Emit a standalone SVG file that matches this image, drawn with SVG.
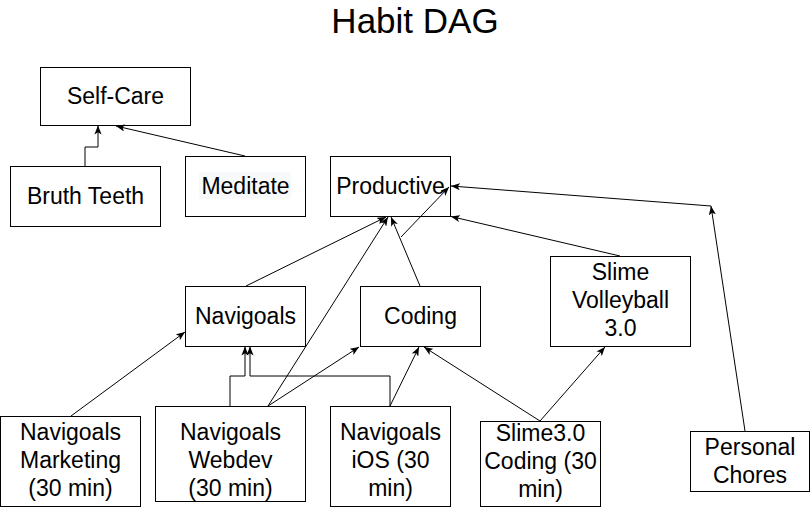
<svg xmlns="http://www.w3.org/2000/svg" width="811" height="507" viewBox="0 0 811 507">
<defs>
<style>
.box{fill:#fff;stroke:#000;stroke-width:1}
.t{font-family:"Liberation Sans",Arial,Helvetica,sans-serif;font-size:23px;fill:#000;text-anchor:middle}
.title{font-family:"Liberation Sans",Arial,Helvetica,sans-serif;font-size:35px;fill:#000;text-anchor:middle}
.e{fill:none;stroke:#000;stroke-width:1;marker-end:url(#arr)}
</style>
<marker id="arr" markerUnits="userSpaceOnUse" viewBox="0 0 10 8" refX="10" refY="4" markerWidth="9" markerHeight="7.2" orient="auto">
<path d="M0,0 L10,4 L0,8 L2.5,4 Z" fill="#000"/>
</marker>
</defs>
<rect width="811" height="507" fill="#fff"/>
<text class="title" x="415" y="33">Habit DAG</text>

<g id="self-care">
<rect class="box" x="40.5" y="67.5" width="150" height="58"/>
<text class="t" x="115.5" y="104">Self-Care</text>
</g>
<g id="bruth-teeth">
<rect class="box" x="10.5" y="166.5" width="150" height="60"/>
<text class="t" x="85.5" y="204">Bruth Teeth</text>
</g>
<g id="meditate">
<rect class="box" x="185.5" y="156.5" width="120" height="60"/>
<rect x="199" y="172" width="92" height="27" fill="#f8f9fa"/>
<text class="t" x="245.5" y="194">Meditate</text>
</g>
<g id="productive">
<rect class="box" x="330.5" y="156.5" width="120" height="60"/>
<text class="t" x="390.5" y="194">Productive</text>
</g>
<g id="navigoals">
<rect class="box" x="185.5" y="286.5" width="120" height="60"/>
<text class="t" x="245.5" y="324">Navigoals</text>
</g>
<g id="coding">
<rect class="box" x="360.5" y="286.5" width="120" height="60"/>
<text class="t" x="420.5" y="324">Coding</text>
</g>
<g id="slime-volleyball">
<rect class="box" x="550.5" y="256.5" width="140" height="90"/>
<text class="t" x="620.5" y="280">Slime</text>
<text class="t" x="620.5" y="308">Volleyball</text>
<text class="t" x="620.5" y="336">3.0</text>
</g>
<g id="navigoals-marketing">
<rect class="box" x="0.5" y="416.5" width="140" height="90"/>
<text class="t" x="70.5" y="440">Navigoals</text>
<text class="t" x="70.5" y="468">Marketing</text>
<text class="t" x="70.5" y="496">(30 min)</text>
</g>
<g id="navigoals-webdev">
<rect class="box" x="155.5" y="406.5" width="150" height="95"/>
<text class="t" x="230.5" y="440">Navigoals</text>
<text class="t" x="230.5" y="468">Webdev</text>
<text class="t" x="230.5" y="496">(30 min)</text>
</g>
<g id="navigoals-ios">
<rect class="box" x="330.5" y="406.5" width="120" height="100"/>
<text class="t" x="390.5" y="440">Navigoals</text>
<text class="t" x="390.5" y="468">iOS (30</text>
<text class="t" x="390.5" y="496">min)</text>
</g>
<g id="slime3-coding">
<rect class="box" x="480.5" y="421.5" width="120" height="85"/>
<text class="t" x="540.5" y="441">Slime3.0</text>
<text class="t" x="540.5" y="469">Coding (30</text>
<text class="t" x="540.5" y="497">min)</text>
</g>
<g id="personal-chores">
<rect class="box" x="690.5" y="431.5" width="119" height="60"/>
<text class="t" x="750" y="455">Personal</text>
<text class="t" x="750" y="483">Chores</text>
</g>

<g id="edges">
<polyline class="e" points="85,166 85,147 98,147 98,125.5"/>
<line class="e" x1="245" y1="156" x2="116" y2="126"/>
<line class="e" x1="246" y1="286" x2="386" y2="217"/>
<line class="e" x1="268" y1="406" x2="388" y2="217"/>
<line class="e" x1="420" y1="286" x2="391" y2="217"/>
<line class="e" x1="401" y1="237" x2="449" y2="187"/>
<line class="e" x1="620" y1="256" x2="451" y2="216.5"/>
<line class="e" x1="745" y1="431" x2="711" y2="206"/>
<line class="e" x1="711" y1="206" x2="451" y2="186"/>
<line class="e" x1="71" y1="416" x2="185" y2="332"/>
<polyline class="e" points="230,406 230,376 245,376 245,346.5"/>
<polyline class="e" points="390,406 390,376 250,376 250,346.5"/>
<line class="e" x1="268" y1="406" x2="359" y2="347"/>
<line class="e" x1="390" y1="406" x2="419" y2="347"/>
<line class="e" x1="540" y1="421" x2="424" y2="347"/>
<line class="e" x1="540" y1="421" x2="605" y2="347"/>
</g>
</svg>
